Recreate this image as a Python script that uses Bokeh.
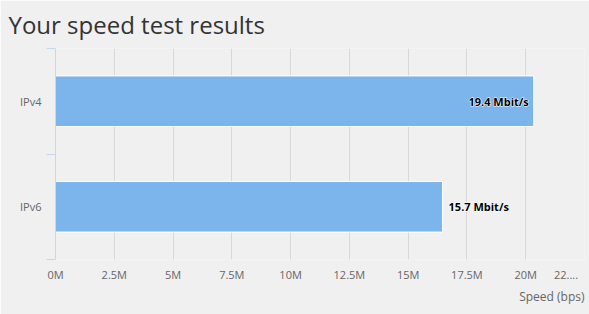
from bokeh.plotting import figure
from bokeh.models import Range1d, FixedTicker, ColumnDataSource, LinearAxis, Grid, Title
from bokeh.core.properties import value
from bokeh.embed import file_html
from bokeh.resources import INLINE

# ---- data ----
categories = ["IPv4", "IPv6"]
speeds_mbit = [19.4, 15.7]
speed_labels = ["19.4 Mbit/s", "15.7 Mbit/s"]
x_ticks = [0, 2.5e6, 5e6, 7.5e6, 10e6, 12.5e6, 15e6, 17.5e6, 20e6, 22.5e6]
x_tick_labels = ["0M", "2.5M", "5M", "7.5M", "10M", "12.5M", "15M", "17.5M", "20M", "22...."]
title_text = "Your speed test results"
axis_title = "Speed (bps)"

FONT = "Open Sans"
BG = "#f0f0f0"

bps = [v * 1048576 for v in speeds_mbit]
n = len(categories)
ypos = [n - i - 0.5 for i in range(n)]
x_max = x_ticks[-1]

inside = [b > 0.85 * x_max for b in bps]
src = ColumnDataSource(dict(
    y=ypos, right=bps, label=speed_labels,
    align=["right" if i else "left" for i in inside],
    xoff=[-5 if i else 6 for i in inside],
))

p = figure(width=589, height=314, x_range=Range1d(0, x_max), y_range=Range1d(0, n),
           output_backend="svg", toolbar_location=None,
           x_axis_type=None, y_axis_type=None,
           min_border_left=55, min_border_right=5, min_border_top=48, min_border_bottom=55)
p.background_fill_color = BG
p.border_fill_color = BG
p.outline_line_color = None

xticker = FixedTicker(ticks=x_ticks)
p.add_layout(Grid(dimension=0, ticker=xticker, grid_line_color="#d8d8d8", grid_line_width=1))

# last (overflowing) label is shifted left with trailing no-break spaces
overrides = {}
for t, l in zip(x_ticks, x_tick_labels):
    overrides[t] = l + ("\u00a0" * 4 if t == x_max else "")

xaxis = LinearAxis(ticker=xticker, axis_line_color=None, major_tick_line_color=None,
                   minor_tick_line_color=None, major_tick_out=0, major_tick_in=0,
                   major_label_standoff=7,
                   major_label_overrides=overrides,
                   major_label_text_font=FONT, major_label_text_font_size="11px",
                   major_label_text_color="#666666")
p.add_layout(xaxis, "below")

yticker = FixedTicker(ticks=ypos, minor_ticks=list(range(n + 1)))
yaxis = LinearAxis(ticker=yticker, axis_line_color="#ccd6eb", axis_line_width=1,
                   major_tick_line_color=None, major_tick_out=0, major_tick_in=0,
                   minor_tick_line_color="#ccd6eb", minor_tick_out=9, minor_tick_in=0,
                   major_label_standoff=5,
                   major_label_overrides={y: c for y, c in zip(ypos, categories)},
                   major_label_text_font=FONT, major_label_text_font_size="11px",
                   major_label_text_color="#666666")
p.add_layout(yaxis, "left")

p.hbar(y="y", left=0, right="right", height=0.48, source=src,
       fill_color="#7cb5ec", line_color="white", line_width=1)

# white halo under the data labels, then the labels themselves
p.text(x="right", y="y", text="label", source=src, x_offset="xoff",
       text_align="align", text_baseline="middle",
       text_font=value(FONT), text_font_size="11px", text_font_style="bold",
       text_color="white", text_outline_color="white")
p.text(x="right", y="y", text="label", source=src, x_offset="xoff",
       text_align="align", text_baseline="middle",
       text_font=value(FONT), text_font_size="11px", text_font_style="bold",
       text_color="#000000")

p.add_layout(Title(text=axis_title, align="right", text_font=FONT, text_font_size="12px",
                   text_font_style="normal", text_color="#666666", standoff=2), "below")
p.add_layout(Title(text=title_text, align="left", offset=-47, text_font=FONT,
                   text_font_size="24px", text_font_style="normal", text_line_height=0.7,
                   text_color="#333333", standoff=12, vertical_align="top"), "above")

open("out.html", "w").write(file_html(p, INLINE))
